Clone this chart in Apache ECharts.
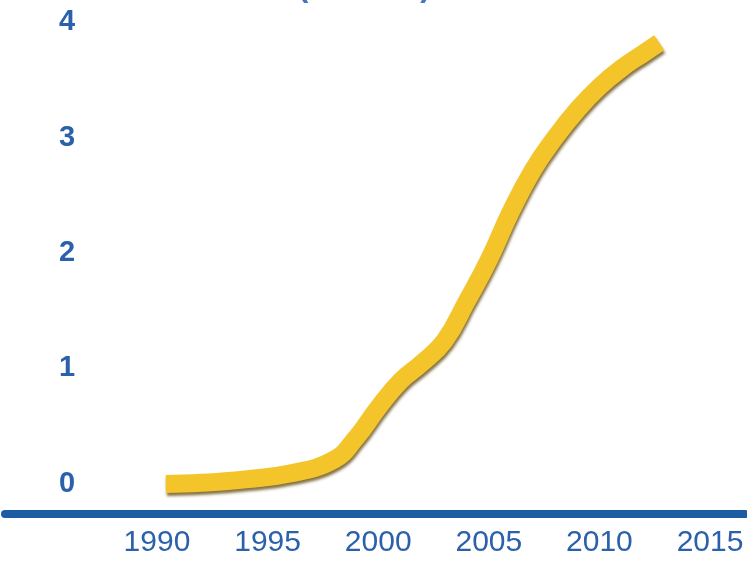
<!DOCTYPE html>
<html>
<head>
<meta charset="utf-8">
<script src="https://cdn.jsdelivr.net/npm/echarts@6/dist/echarts.min.js"></script>
<style>
html,body{margin:0;padding:0;background:#fff;}
#chart{width:747px;height:561px;}
</style>
</head>
<body>
<div id="chart"></div>
<script>
const titleText = '(Billions)';
const years = [1990.4, 1992, 1994, 1996, 1998, 1999, 2000, 2001, 2002, 2003, 2004, 2005, 2006, 2007, 2008, 2009, 2010, 2011, 2012, 2012.7];
const values = [0.00, 0.01, 0.04, 0.09, 0.21, 0.40, 0.66, 0.89, 1.05, 1.24, 1.58, 1.94, 2.36, 2.72, 3.00, 3.24, 3.44, 3.60, 3.73, 3.82];
const xTickLabels = [1990, 1995, 2000, 2005, 2010, 2015];
const yTickLabels = [0, 1, 2, 3, 4];

const blue = '#2b60ab';
const chart = echarts.init(document.getElementById('chart'), null, {renderer: 'canvas'});
chart.setOption({
  animation: false,
  backgroundColor: '#ffffff',
  grid: {left: 5, right: 2, top: 10, bottom: 47, containLabel: false},
  graphic: [{
    type: 'text',
    left: 298,
    top: -28,
    style: {
      text: titleText,
      font: 'bold 31px "Liberation Sans", Arial, sans-serif',
      fill: '#4677bd'
    }
  }],
  xAxis: {
    type: 'value',
    min: 1983.13,
    max: 2016.58,
    axisLine: {show: true, onZero: false, lineStyle: {color: '#1c5ca3', width: 8}},
    axisTick: {show: false},
    splitLine: {show: false},
    axisLabel: {
      customValues: xTickLabels,
      margin: 14,
      color: blue,
      fontSize: 30,
      fontFamily: '"Liberation Sans", Arial, sans-serif',
      formatter: v => String(v)
    }
  },
  yAxis: {
    type: 'value',
    min: -0.26,
    max: 4.104,
    axisLine: {show: false},
    axisTick: {show: false},
    splitLine: {show: false},
    axisLabel: {
      customValues: yTickLabels,
      inside: true,
      align: 'center',
      margin: 62,
      color: blue,
      fontSize: 29,
      fontWeight: 'bold',
      fontFamily: '"Liberation Sans", Arial, sans-serif',
      formatter: v => String(v)
    }
  },
  series: [{
    type: 'line',
    data: years.map((y, i) => [y, values[i]]),
    smooth: 0.45,
    showSymbol: false,
    clip: false,
    lineStyle: {
      color: '#f3c52a',
      width: 18,
      cap: 'butt',
      join: 'round',
      shadowColor: 'rgba(90,65,0,0.75)',
      shadowBlur: 3,
      shadowOffsetX: 1,
      shadowOffsetY: 3
    }
  }]
});
</script>
</body>
</html>
